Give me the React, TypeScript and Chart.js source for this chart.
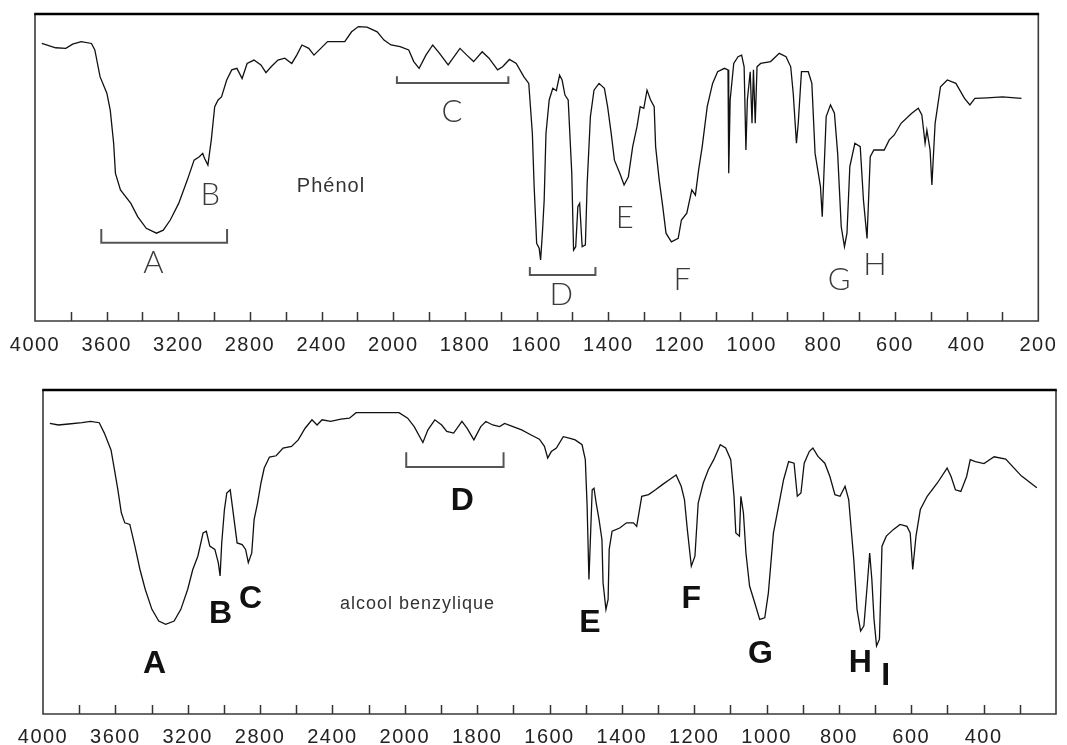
import React, { useEffect, useRef } from "react";
import { Chart, registerables } from "chart.js";

Chart.register(...registerables);

// ---- wavenumber axis (cm-1); the scale is compressed by 2 above 2000 cm-1 ----
const tickWavenumbers = [
  4000, 3800, 3600, 3400, 3200, 3000, 2800, 2600, 2400, 2200, 2000, 1900, 1800,
  1700, 1600, 1500, 1400, 1300, 1200, 1100, 1000, 900, 800, 700, 600, 500, 400,
  300, 200,
];
const phenolTickLabels = [
  4000, 3600, 3200, 2800, 2400, 2000, 1800, 1600, 1400, 1200, 1000, 800, 600,
  400, 200,
];
const benzylTickLabels = [
  4000, 3600, 3200, 2800, 2400, 2000, 1800, 1600, 1400, 1200, 1000, 800, 600,
  400,
];

// ---- Phénol spectrum ----
const phenolWavenumbers = [
  3962, 3885, 3828, 3790, 3742, 3685, 3666, 3637, 3599, 3580, 3561, 3551, 3523,
  3465, 3427, 3379, 3322, 3284, 3245, 3198, 3150, 3112, 3083, 3064, 3054, 3035,
  3016, 2997, 2978, 2959, 2930, 2902, 2873, 2844, 2816, 2778, 2739, 2711, 2682,
  2644, 2606, 2567, 2539, 2510, 2472, 2443, 2405, 2367, 2319, 2271, 2233, 2195,
  2147, 2090, 2052, 2013, 1981, 1957, 1943, 1928, 1909, 1890, 1871, 1847, 1814,
  1795, 1776, 1752, 1733, 1709, 1695, 1676, 1657, 1636, 1622, 1612, 1607, 1600,
  1593, 1589, 1584, 1579, 1574, 1565, 1555, 1545, 1536, 1529, 1521, 1512, 1502,
  1497, 1491, 1485, 1480, 1473, 1464, 1459, 1450, 1440, 1426, 1411, 1402, 1392,
  1383, 1368, 1356, 1344, 1332, 1320, 1311, 1301, 1292, 1282, 1272, 1268, 1258,
  1248, 1239, 1224, 1205, 1196, 1181, 1167, 1157, 1148, 1138, 1124, 1109, 1095,
  1076, 1066, 1064, 1060, 1050, 1038, 1028, 1021, 1016, 1012, 1004, 999, 995,
  990, 985, 975, 947, 923, 904, 891, 884, 875, 870, 861, 842, 832, 823, 808, 803,
  799, 792, 780, 769, 760, 750, 741, 734, 726, 712, 697, 688, 678, 669, 659, 630,
  616, 602, 583, 554, 535, 525, 516, 511, 502, 497, 488, 473, 454, 430, 406, 391,
  377, 343, 300, 247,
];
const phenolTransmittance = [
  90.4, 89, 88.8, 90.2, 91, 90.4, 88.3, 79.6, 74.2, 68.7, 57.9, 48.1, 42.7,
  38.3, 34, 30.2, 28.6, 29.6, 32.9, 38.3, 45.9, 52.4, 53.5, 54.6, 53, 50.8, 59,
  69.8, 72, 73, 78.5, 81.8, 82.3, 79, 83.9, 85, 83.4, 80.9, 82.8, 85, 85.6, 83.9,
  86.6, 89.9, 88.8, 86.6, 88.8, 91, 91, 91, 94.2, 95.9, 95.7, 94.2, 91.5, 89.9,
  89.4, 88.3, 84.5, 82.3, 86.6, 89.9, 87.2, 83.4, 88.8, 86.6, 84.5, 87.7, 85.6,
  81.8, 82.8, 85.2, 83.9, 79.6, 77.4, 61.1, 43.8, 25.3, 23.7, 19.9, 28.6, 39.4,
  61.1, 72, 75.8, 75, 80.1, 78.5, 73.6, 72, 48.1, 23.1, 24.2, 37.2, 38.3, 24.2,
  24.8, 44.8, 66.6, 75.2, 77.4, 75.8, 69.8, 61.1, 52.4, 48.1, 44.3, 47, 56.8,
  63.3, 69.8, 69.3, 75.2, 72, 69.8, 56.8, 45.9, 37.2, 28.6, 25.8, 26.9, 32.9,
  35.1, 42.7, 41, 49.2, 56.8, 69.8, 77.4, 81.2, 82.3, 81.8, 48.1, 72, 83.9, 86.1,
  86.6, 82.8, 55.7, 72, 81.2, 64.4, 81.8, 64.4, 82.8, 83.9, 84.5, 87.2, 86.1,
  82.8, 74.2, 57.9, 64.4, 81.2, 81.2, 77.4, 54.6, 43.8, 34, 45.9, 66.6, 70.4,
  67.7, 54.6, 30.7, 24.2, 28.6, 50.3, 57.9, 56.8, 39.4, 26.9, 53.5, 55.7, 55.7,
  59, 60.6, 64.4, 67.6, 69.3, 67.1, 57.9, 62.2, 55.7, 44.3, 64.4, 76.3, 78.5,
  77.4, 72.5, 70.4, 72.5, 72.7, 73, 72.5,
];

// ---- Alcool benzylique spectrum ----
const benzylWavenumbers = [
  3962, 3915, 3859, 3784, 3737, 3689, 3661, 3624, 3605, 3586, 3567, 3548, 3520,
  3492, 3464, 3435, 3398, 3360, 3322, 3275, 3238, 3200, 3172, 3144, 3115, 3097,
  3078, 3050, 3031, 3021, 3012, 2997, 2984, 2965, 2946, 2927, 2899, 2880, 2865,
  2846, 2833, 2814, 2795, 2777, 2748, 2711, 2673, 2626, 2589, 2551, 2513, 2485,
  2457, 2410, 2353, 2306, 2269, 2203, 2107, 2032, 1992, 1974, 1950, 1936, 1917,
  1898, 1884, 1865, 1842, 1828, 1809, 1790, 1776, 1757, 1738, 1724, 1701, 1677,
  1652, 1628, 1614, 1605, 1595, 1581, 1562, 1543, 1529, 1510, 1501, 1496, 1491,
  1487, 1482, 1477, 1471, 1463, 1455, 1452, 1444, 1438, 1435, 1427, 1406, 1387,
  1368, 1359, 1345, 1326, 1307, 1288, 1269, 1250, 1236, 1227, 1219, 1208, 1198,
  1189, 1175, 1161, 1146, 1128, 1113, 1099, 1090, 1085, 1075, 1071, 1064, 1057,
  1047, 1033, 1019, 1005, 995, 981, 967, 953, 939, 924, 915, 905, 896, 882, 872,
  858, 839, 825, 811, 797, 783, 773, 759, 750, 740, 731, 722, 715, 709, 703, 696,
  688, 681, 669, 650, 631, 612, 603, 596, 587, 575, 556, 528, 501, 490, 478, 463,
  447, 437, 423, 399, 371, 339, 296, 253,
];
const benzylTransmittance = [
  89.7, 89.2, 89.5, 89.9, 90.3, 89.9, 86.7, 81.5, 75.4, 69.2, 62.1, 59, 58.5,
  51.8, 44.6, 38.5, 32.3, 28.7, 27.7, 28.7, 32.3, 38.5, 44.6, 48.7, 55.9, 56.4,
  51.8, 50.8, 46.7, 42.6, 52.8, 63.1, 68.2, 69.2, 61, 52.8, 52.3, 50.8, 46.7,
  49.7, 60, 65.1, 71.3, 75.9, 79.3, 79.7, 82.1, 82.6, 84.6, 88.2, 90.8, 89.2,
  90.8, 90.3, 91, 91.3, 93, 93, 93, 93, 91.3, 88.7, 83.8, 87.7, 90.8, 89.2, 87.2,
  86.7, 90.3, 88.2, 84.6, 88.7, 90.3, 89.2, 88.7, 89.7, 88.7, 87.7, 86.2, 84.8,
  82.6, 79, 81, 82.1, 85.6, 85.1, 84.6, 83.1, 78.5, 64.1, 41.5, 53.8, 69.2, 69.7,
  65.1, 60, 53.8, 40.5, 32.3, 35.4, 50.8, 56.4, 57.4, 59, 59, 57.9, 67.2, 67.7,
  69.2, 70.8, 72.3, 73.8, 70.3, 66.2, 56.9, 45.6, 48.7, 65.1, 71.3, 75.4, 78.5,
  83.1, 82.1, 78.5, 67.2, 55.9, 54.9, 67.2, 62.1, 49.7, 39.5, 34.4, 29.2, 29.7,
  37.4, 55.9, 64.1, 72.3, 77.9, 77.4, 67.2, 68.2, 77.4, 81, 82.1, 79.5, 77.4,
  73.3, 67.7, 67.2, 70.3, 66.2, 47.7, 32.3, 25.6, 27.2, 39.5, 49.7, 41.5, 29.2,
  21, 23.1, 51.8, 54.9, 56.9, 58.5, 57.9, 55.9, 44.6, 54.9, 63.1, 67.2, 71.3,
  75.9, 73.3, 69.2, 68.7, 73.3, 78.5, 77.9, 77.3, 79.4, 78.7, 73.5, 69.8,
];

// ---- annotations: wavenumber, transmittance (baseline) ----
const phenolLetters = [
  { text: "A", w: 3339, t: 15.6 },
  { text: "B", w: 3022, t: 37.8 },
  { text: "C", w: 1836, t: 64.8 },
  { text: "D", w: 1531, t: 5.2 },
  { text: "E", w: 1354, t: 30.3 },
  { text: "F", w: 1194, t: 10.1 },
  { text: "G", w: 756, t: 10.1 },
  { text: "H", w: 656, t: 15 },
];
const phenolCaption = [{ text: "Phénol", w: 2348, t: 42 }];
const phenolBrackets = [
  { from: 3630, to: 2928, t: 25.5, h: 4.5 },
  { from: 1990, to: 1679, t: 77.5, h: 2.2 },
  { from: 1619, to: 1436, t: 15, h: 2.6 },
];

const benzylLetters = [
  { text: "A", w: 3383, t: 12.6 },
  { text: "B", w: 3018, t: 28.1 },
  { text: "C", w: 2853, t: 32.7 },
  { text: "D", w: 1841, t: 62.9 },
  { text: "E", w: 1488, t: 25.3 },
  { text: "F", w: 1208, t: 32.7 },
  { text: "G", w: 1017, t: 15.7 },
  { text: "H", w: 741, t: 13 },
  { text: "I", w: 671, t: 8.9 },
];
const benzylCaption = [{ text: "alcool benzylique", w: 1965, t: 32.4 }];
const benzylBrackets = [{ from: 1996, to: 1727, t: 76.2, h: 4.6 }];

const toU = (w: number) => (w <= 2000 ? w : 2000 + (w - 2000) / 2);
const fromU = (u: number) =>
  Math.round(u <= 2000 ? u : 2000 + (u - 2000) * 2);

type Ann = { text: string; w: number; t: number };
type Br = { from: number; to: number; t: number; h: number };

function decorPlugin(
  letters: Ann[],
  captions: Ann[],
  brackets: Br[],
  letterFont: string,
  letterColor: string,
  captionFont: string,
) {
  return {
    id: "decor",
    beforeDraw(chart: any) {
      chart.ctx.letterSpacing = "1.5px";
    },
    afterDraw(chart: any) {
      const ctx = chart.ctx as CanvasRenderingContext2D;
      const xs = chart.scales.x;
      const ys = chart.scales.y;
      const { left, right, top, bottom } = chart.chartArea;
      ctx.save();
      (ctx as any).letterSpacing = "0px";
      // frame
      ctx.strokeStyle = "#3a3a3a";
      ctx.lineWidth = 1.6;
      ctx.beginPath();
      ctx.moveTo(left, top);
      ctx.lineTo(left, bottom);
      ctx.lineTo(right, bottom);
      ctx.lineTo(right, top);
      ctx.stroke();
      ctx.strokeStyle = "#000";
      ctx.lineWidth = 2.5;
      ctx.beginPath();
      ctx.moveTo(left - 0.8, top);
      ctx.lineTo(right + 0.8, top);
      ctx.stroke();
      // inner tick marks
      ctx.strokeStyle = "#333";
      ctx.lineWidth = 1.5;
      for (const w of tickWavenumbers) {
        const u = toU(w);
        if (u <= 200 || u >= 3000) continue;
        const px = Math.round(xs.getPixelForValue(u)) + 0.5;
        ctx.beginPath();
        ctx.moveTo(px, bottom);
        ctx.lineTo(px, bottom - 9);
        ctx.stroke();
      }
      // brackets
      ctx.strokeStyle = "#555";
      ctx.lineWidth = 2;
      for (const b of brackets) {
        const x1 = xs.getPixelForValue(toU(b.from));
        const x2 = xs.getPixelForValue(toU(b.to));
        const y = ys.getPixelForValue(b.t);
        const y0 = ys.getPixelForValue(b.t + b.h);
        ctx.beginPath();
        ctx.moveTo(x1, y0);
        ctx.lineTo(x1, y);
        ctx.lineTo(x2, y);
        ctx.lineTo(x2, y0);
        ctx.stroke();
      }
      // letters
      ctx.textAlign = "center";
      ctx.textBaseline = "alphabetic";
      ctx.fillStyle = letterColor;
      ctx.font = letterFont;
      for (const a of letters) {
        ctx.fillText(
          a.text,
          xs.getPixelForValue(toU(a.w)),
          ys.getPixelForValue(a.t),
        );
      }
      ctx.fillStyle = "#333";
      ctx.font = captionFont;
      (ctx as any).letterSpacing = "1px";
      for (const a of captions) {
        ctx.fillText(
          a.text,
          xs.getPixelForValue(toU(a.w)),
          ys.getPixelForValue(a.t),
        );
      }
      ctx.restore();
    },
  };
}

function makeChart(
  canvas: HTMLCanvasElement,
  ws: number[],
  ts: number[],
  labels: number[],
  padding: { left: number; right: number; top: number; bottom: number },
  scaleHeight: number,
  labelPad: number,
  plugin: any,
) {
  const labelSet = new Set(labels);
  return new Chart(canvas, {
    type: "line",
    data: {
      datasets: [
        {
          data: ws.map((w, i) => ({ x: toU(w), y: ts[i] })),
          borderColor: "#111",
          borderWidth: 1.3,
          pointRadius: 0,
          tension: 0,
          fill: false,
        },
      ],
    },
    options: {
      animation: false,
      responsive: false,
      maintainAspectRatio: false,
      devicePixelRatio: 1,
      layout: { padding },
      plugins: { legend: { display: false }, tooltip: { enabled: false } },
      scales: {
        x: {
          type: "linear",
          reverse: true,
          min: 200,
          max: 3000,
          afterBuildTicks: (s: any) => {
            s.ticks = tickWavenumbers.map((w) => ({ value: toU(w) }));
          },
          afterFit: (s: any) => {
            s.height = scaleHeight;
          },
          grid: { display: false, drawTicks: false },
          border: { display: false },
          ticks: {
            autoSkip: false,
            maxRotation: 0,
            minRotation: 0,
            padding: labelPad,
            color: "#222",
            font: { family: "'Liberation Sans', Arial, sans-serif", size: 20 },
            callback: (v: any) => {
              const w = fromU(Number(v));
              return labelSet.has(w) ? String(w) : "";
            },
          },
        },
        y: { display: false, min: 0, max: 100 },
      },
    } as any,
    plugins: [plugin],
  });
}

export default function App() {
  const topRef = useRef<HTMLCanvasElement>(null);
  const botRef = useRef<HTMLCanvasElement>(null);

  useEffect(() => {
    const c1 = makeChart(
      topRef.current!,
      phenolWavenumbers,
      phenolTransmittance,
      phenolTickLabels,
      { left: 35, right: 24, top: 14, bottom: 0 },
      44,
      12,
      decorPlugin(
        phenolLetters,
        phenolCaption,
        phenolBrackets,
        "300 31px Lato, 'Liberation Sans', sans-serif",
        "#3a3a3a",
        "20px 'Liberation Sans', Arial, sans-serif",
      ),
    );
    const c2 = makeChart(
      botRef.current!,
      benzylWavenumbers,
      benzylTransmittance,
      benzylTickLabels,
      { left: 43, right: 5, top: 20, bottom: 0 },
      31,
      11,
      decorPlugin(
        benzylLetters,
        benzylCaption,
        benzylBrackets,
        "bold 32px 'Liberation Sans', Arial, sans-serif",
        "#111",
        "18px 'Liberation Sans', Arial, sans-serif",
      ),
    );
    return () => {
      c1.destroy();
      c2.destroy();
    };
  }, []);

  return (
    <div
      style={{
        position: "absolute",
        left: 0,
        top: 0,
        width: 1067,
        height: 745,
        background: "#fff",
        overflow: "hidden",
      }}
    >
      <canvas
        ref={topRef}
        width={1067}
        height={365}
        style={{ position: "absolute", left: 0, top: 0, width: 1067, height: 365 }}
      />
      <canvas
        ref={botRef}
        width={1067}
        height={375}
        style={{ position: "absolute", left: 0, top: 370, width: 1067, height: 375 }}
      />
    </div>
  );
}
